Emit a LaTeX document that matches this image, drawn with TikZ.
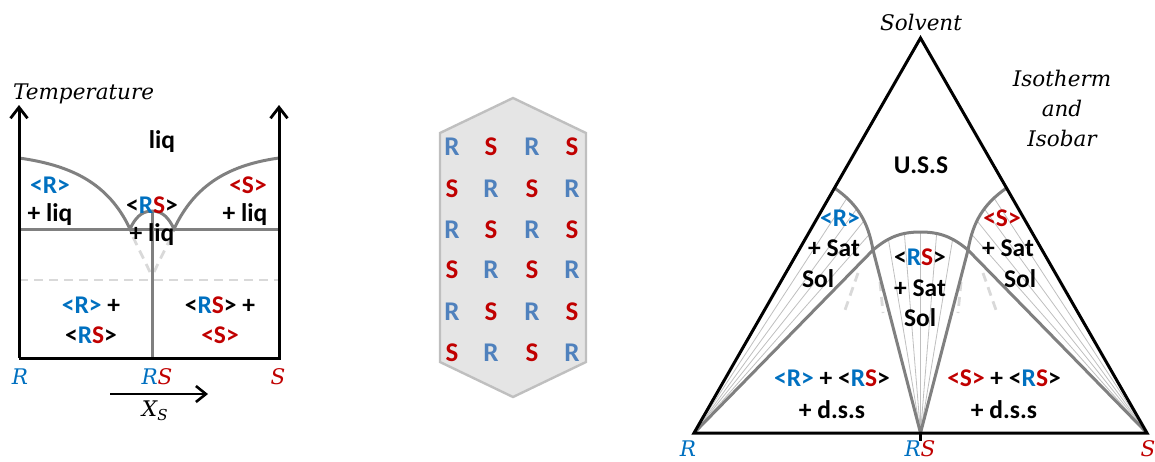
\documentclass[tikz,border=0pt]{standalone}
\usepackage{fontspec}
\setmainfont{Carlito}
\newfontfamily\labfont{DejaVu Serif}
\usetikzlibrary{arrows.meta}
\definecolor{rblue}{RGB}{0,112,192}
\definecolor{sred}{RGB}{192,0,0}
\definecolor{lblue}{RGB}{79,129,189}
\definecolor{pgray}{RGB}{128,128,128}
\newcommand{\cR}{\textcolor{rblue}{R}}
\newcommand{\cS}{\textcolor{sred}{S}}

\begin{document}
\begin{tikzpicture}[x=1pt, y=-1pt,
  txt/.style={font=\fontsize{25.5}{30}\selectfont\bfseries, inner sep=0pt},
  ital/.style={font=\fontsize{21.5}{30}\selectfont\labfont\itshape, inner sep=0pt},
  latt/.style={font=\fontsize{27}{30}\selectfont\bfseries, inner sep=0pt},
  axis/.style={line width=3pt, line join=miter},
  tip/.style={-{Straight Barb[length=11pt,width=17pt,line width=2.8pt]}},
  phase/.style={draw=pgray, line width=3pt},
  meta/.style={draw=black!15, line width=2.8pt, dash pattern=on 9pt off 6pt},
  tie/.style={draw=black!25, line width=0.8pt},
]
\useasboundingbox (0,0) rectangle (1155,461);

  % binary phase diagram
  \coordinate (ytopL) at (19,105);
  \coordinate (org) at (19,358);
  \coordinate (end) at (279,358);
  \coordinate (ytopR) at (279,105);
  \coordinate (mR) at (19,158);
  \coordinate (eu1) at (130,229);
  \coordinate (dtop) at (152,211);
  \coordinate (eu2) at (174,229);
  \coordinate (mS) at (279,158);
  \coordinate (eL) at (19,229);
  \coordinate (eR) at (279,229);
  \coordinate (rsb) at (152,358);
  \coordinate (dashL) at (19,280);
  \coordinate (dashR) at (279,280);

  \draw[meta] (dashL) -- (dashR);
  \draw[meta] (eu1) ++(3,8) -- (150,272);
  \draw[meta] (eu2) ++(-3,8) -- (154,272);
  \draw[phase] (eL) -- (eR);
  \draw[phase] (dtop) -- (rsb);
  \draw[phase] (mR) to[out=-8,in=115] (eu1) to[out=65,in=180] (dtop)
    to[out=0,in=115] (eu2) to[out=65,in=188] (mS);
  \draw[axis, tip] (org) -- (ytopL);
  \draw[axis, tip] (org) -- (end) -- (ytopR);

  \node[ital, anchor=west] (temp) at (13,94) {Temperature};
  \node[txt] (liq) at (162,142) {liq};
  \node[txt, text=rblue] (rl1) at (50,185) {<R>};
  \node[txt] (rl2) at (50,215) {+ liq};
  \node[txt] (rsl1) at (152,205) {<\cR\cS>};
  \node[txt] (rsl2) at (152,235) {+ liq};
  \node[txt, text=sred] (sl1) at (248,185) {<S>};
  \node[txt] (sl2) at (245,215) {+ liq};
  \node[txt] (lo1) at (91,305) {\textcolor{rblue}{<R>} +};
  \node[txt] (lo2) at (91,335) {<\cR\cS>};
  \node[txt] (ro1) at (220,305) {<\cR\cS> +};
  \node[txt, text=sred] (ro2) at (220,335) {<S>};
  \node[ital, text=rblue] (labR) at (20,377) {R};
  \node[ital] (labRS) at (157,377) {\cR\cS};
  \node[ital, text=sred] (labS) at (278,377) {S};

  \coordinate (xa) at (110,394);
  \coordinate (xb) at (208,394);
  \draw[line width=2.8pt, -{Straight Barb[length=10pt,width=16pt,line width=2.6pt]}] (xa) -- (xb);
  \node[ital] (xs) at (155,411) {X\textsubscript{S}};

  % crystal lattice
  \draw[fill=black!10, draw=black!25, line width=2.4pt]
    (513,98) -- (586,133) -- (586,362) -- (513,397) -- (440,362) -- (440,133) -- cycle;
  \foreach \r [count=\ri] in {147,189,230,270,312,353}
    \foreach \c [count=\ci] in {452,491,532,572} {
      \pgfmathtruncatemacro{\odd}{mod(\ri+\ci,2)}
      \ifnum\odd=0
        \node[latt, text=lblue] (at\ri\ci) at (\c,\r) {R};
      \else
        \node[latt, text=sred] (at\ri\ci) at (\c,\r) {S};
      \fi
    }

  % ternary isotherm
  \coordinate (R) at (694,433);
  \coordinate (S) at (1147,433);
  \coordinate (V) at (920.5,38);
  \coordinate (RS) at (920.5,433);
  \coordinate (ra) at (834.5,188);
  \coordinate (sa) at (1006.5,188);
  \coordinate (dL) at (873,250);
  \coordinate (dT) at (920.5,232);
  \coordinate (dR) at (968,250);

  \path (ra) to[out=-35,in=100] coordinate[pos=.2] (r1) coordinate[pos=.4] (r2)
    coordinate[pos=.6] (r3) coordinate[pos=.8] (r4) (dL);
  \path (sa) to[out=-145,in=80] coordinate[pos=.2] (s1) coordinate[pos=.4] (s2)
    coordinate[pos=.6] (s3) coordinate[pos=.8] (s4) (dR);
  \path (dL) to[out=40,in=180] coordinate[pos=.35] (d1) coordinate[pos=.7] (d2) (dT);
  \path (dT) to[out=0,in=140] coordinate[pos=.3] (d4) coordinate[pos=.65] (d5) (dR);
  \foreach \i in {1,...,4} {
    \draw[tie] (R) -- (r\i);
    \draw[tie] (S) -- (s\i);
  }
  \foreach \p in {d1,d2,dT,d4,d5}
    \draw[tie] (RS) -- (\p);

  \draw[meta] (858,273) -- (845,310);
  \draw[meta] (880,282) -- (883,313);
  \draw[meta] (983,273) -- (996,310);
  \draw[meta] (961,282) -- (958,313);

  \draw[phase] (ra) to[out=-35,in=100] (dL);
  \draw[phase] (sa) to[out=-145,in=80] (dR);
  \draw[phase] (dL) to[out=40,in=180] (dT) to[out=0,in=140] (dR);
  \draw[phase] (R) -- (dL) -- (RS) -- (dR) -- (S);
  \draw[axis] (R) -- (V) -- (S) -- cycle;
  \draw[axis] (RS) -- ++(0,8);

  \node[ital] (solv) at (921,22) {Solvent};
  \node[ital, align=center] (iso) at (1062,108) {Isotherm\\and\\Isobar};
  \node[txt] (uss) at (921,165) {U.S.S};
  \node[txt, text=rblue] (tR1) at (840,218) {<R>};
  \node[txt] (tR2) at (834,248) {+ Sat};
  \node[txt] (tR3) at (818,279) {Sol};
  \node[txt] (tRS1) at (920,257) {<\cR\cS>};
  \node[txt] (tRS2) at (920,288) {+ Sat};
  \node[txt] (tRS3) at (920,318) {Sol};
  \node[txt, text=sred] (tS1) at (1002,218) {<S>};
  \node[txt] (tS2) at (1008,248) {+ Sat};
  \node[txt] (tS3) at (1020,279) {Sol};
  \node[txt] (bl1) at (832,378) {\textcolor{rblue}{<R>} + <\cR\cS>};
  \node[txt] (bl2) at (832,410) {+ d.s.s};
  \node[txt] (br1) at (1004,378) {\textcolor{sred}{<S>} + <\cR\cS>};
  \node[txt] (br2) at (1004,410) {+ d.s.s};
  \node[ital, text=rblue] (vR) at (688,449) {R};
  \node[ital] (vRS) at (920,449) {\cR\cS};
  \node[ital, text=sred] (vS) at (1148,449) {S};
\end{tikzpicture}
\end{document}
